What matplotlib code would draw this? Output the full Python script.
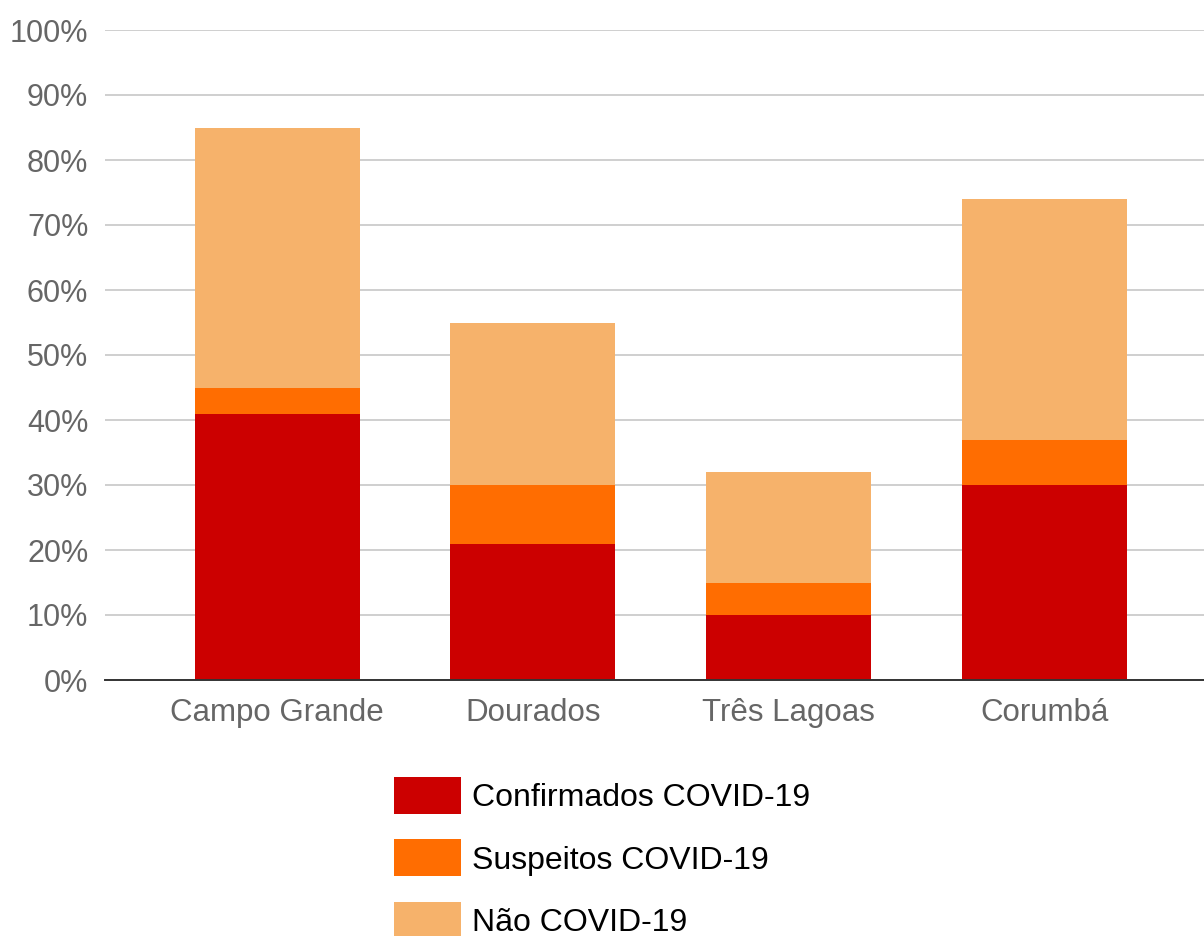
import numpy as np
import matplotlib.pyplot as plt
from matplotlib.patches import Patch
from matplotlib.ticker import PercentFormatter

#--------------------------------------------------------------------------
#                    Data
#--------------------------------------------------------------------------
cities = ['Campo Grande', 'Dourados', 'Três Lagoas', 'Corumbá']
confirmados = [41, 21, 10, 30]
suspeitos = [4, 9, 5, 7]
nao_covid = [40, 25, 17, 37]
series_names = ['Confirmados COVID-19', 'Suspeitos COVID-19', 'Não COVID-19']
colors = ['#cc0000', '#ff6d01', '#f6b26b']

plt.rcParams['font.family'] = ['Liberation Sans', 'DejaVu Sans']

fig = plt.figure(figsize=(12.04, 9.36), dpi=100)
ax = fig.add_axes([105/1204, 1-680/936, 1-105/1204, 650/936])

x = np.arange(len(cities))
w = 0.645
bottom = np.zeros(len(cities))
for vals, c in zip([confirmados, suspeitos, nao_covid], colors):
    ax.bar(x, vals, w, bottom=bottom, color=c, zorder=2)
    bottom += np.array(vals)

#--------------------------------------------------------------------------
#               Axes styling
#--------------------------------------------------------------------------
ax.set_ylim(0, 100)
ax.set_xlim(-0.674, 3.625)
ax.set_yticks(np.arange(0, 101, 10))
ax.yaxis.set_major_formatter(PercentFormatter(decimals=0))
ax.set_xticks(x)
ax.set_xticklabels(cities)
ax.grid(axis='y', color='#cccccc', lw=1.3, zorder=0)
for s in ['top', 'right', 'left']:
    ax.spines[s].set_visible(False)
ax.spines['bottom'].set_color('#333333')
ax.spines['bottom'].set_linewidth(1.4)
ax.spines['bottom'].set_zorder(3)
ax.tick_params(axis='both', length=0, labelsize=22, labelcolor='#666666')
ax.tick_params(axis='x', labelsize=22.5, pad=13)
ax.tick_params(axis='y', pad=12)

#--------------------------------------------------------------------------
#               Legend
#--------------------------------------------------------------------------
handles = [Patch(facecolor=c, edgecolor='none') for c in colors]
fig.legend(handles, series_names, loc='upper left',
           bbox_to_anchor=(394/1204, 1-777/936), frameon=False,
           fontsize=23, handlelength=2.1, handleheight=1.4,
           handletextpad=0.35, labelspacing=0.8, borderpad=0,
           borderaxespad=0)

fig.savefig('out.png', dpi=100)
